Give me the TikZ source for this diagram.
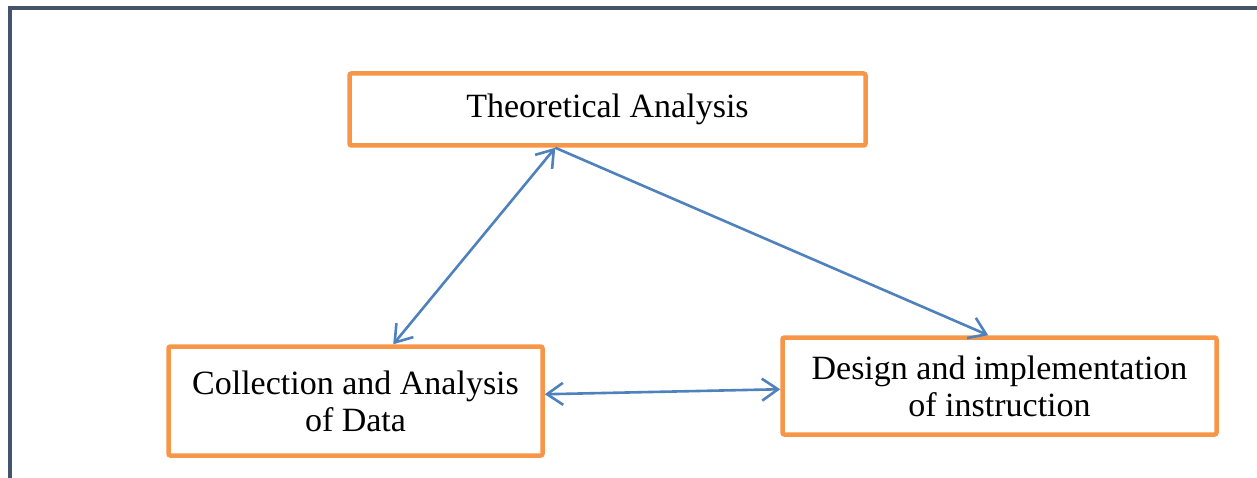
\documentclass[tikz,border=0pt]{standalone}
\usepackage{fontspec}
\setmainfont{Liberation Serif}
\usetikzlibrary{arrows.meta}
\definecolor{boxorange}{HTML}{F79646}
\definecolor{arrowblue}{HTML}{4F81BD}
\definecolor{framegray}{HTML}{44546A}
\begin{document}
\begin{tikzpicture}[x=1pt,y=-1pt,
  box/.style={draw=boxorange, line width=4.5pt, rounded corners=2pt, fill=white,
    align=center, inner sep=0pt, font=\fontsize{34}{37}\selectfont},
  link/.style={draw=arrowblue, line width=2.6pt},
  tip/.tip={Straight Barb[length=16pt,width=22pt]}]
\useasboundingbox (0,0) rectangle (1257,478);
\draw[framegray, line width=3.2pt] (10,478) -- (10,8) -- (1257,8);
\node[box, minimum width=516pt, minimum height=72pt] (top) at (607.5,109.5) {Theoretical Analysis};
\node[box, minimum width=374pt, minimum height=109pt] (left) at (355.5,401) {Collection and Analysis\\of Data};
\node[box, minimum width=434pt, minimum height=97pt] (right) at (999.5,386) {Design and implementation\\of instruction};
\coordinate (t1) at ([xshift=208pt]top.south west);
\coordinate (l1) at ([xshift=227pt]left.north west);
\coordinate (r1) at ([xshift=208pt]right.north west);
\coordinate (l2) at ([yshift=-50pt]left.north east);
\coordinate (r2) at ([yshift=-54pt]right.north west);
\draw[link, tip-tip] (t1) -- (l1);
\draw[link, -tip] (t1) -- (r1);
\draw[link, tip-tip] (l2) -- (r2);
\end{tikzpicture}
\end{document}
